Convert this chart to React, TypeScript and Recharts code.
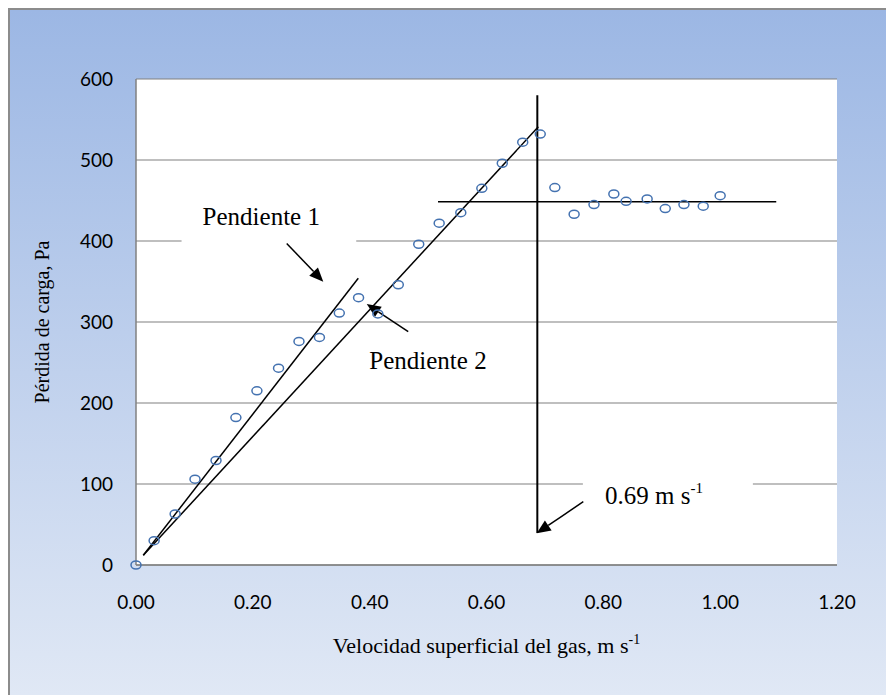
import React from 'react';
import {
  ScatterChart,
  Scatter,
  XAxis,
  YAxis,
  CartesianGrid,
  ReferenceLine,
  ReferenceArea,
  ReferenceDot,
  Label,
} from 'recharts';

// superficial gas velocity, m/s
const velocity = [
  0, 0.031, 0.067, 0.101, 0.137, 0.171, 0.207, 0.244, 0.279, 0.314, 0.348,
  0.381, 0.414, 0.449, 0.484, 0.519, 0.556, 0.592, 0.627, 0.662, 0.692,
  0.717, 0.75, 0.784, 0.818, 0.839, 0.875, 0.906, 0.938, 0.971, 1.0,
];
// pressure drop, Pa
const pressureDrop = [
  0, 30, 63, 106, 129, 182, 215, 243, 276, 281, 311, 330, 310, 346, 396,
  422, 435, 465, 496, 522, 532, 466, 433, 445, 458, 449, 452, 440, 445, 443,
  456,
];

const xTicks = [0, 0.2, 0.4, 0.6, 0.8, 1.0, 1.2];
const yTicks = [0, 100, 200, 300, 400, 500, 600];

// annotation geometry, in data units
const slope1 = [{ x: 0.0125, y: 12 }, { x: 0.3805, y: 354 }];
const slope2 = [{ x: 0.0125, y: 12 }, { x: 0.6887, y: 541 }];
const breakVertical = [{ x: 0.687, y: 39.5 }, { x: 0.687, y: 580 }];
const plateau = [{ x: 0.517, y: 448.5 }, { x: 1.096, y: 448.5 }];
const arrow1 = [{ x: 0.258, y: 397 }, { x: 0.3206, y: 349.8 }];
const arrow2 = [{ x: 0.466, y: 288 }, { x: 0.395, y: 322.2 }];
const arrow3 = [{ x: 0.7657, y: 78.1 }, { x: 0.6859, y: 39.1 }];

const data = velocity.map((v, i) => ({ x: v, y: pressureDrop[i] }));

const SERIF = "'Liberation Serif', 'Times New Roman', serif";
const SANS = "Lato, 'Liberation Sans', sans-serif";
const GRID = '#808080';

const Circle = (props: any) => (
  <ellipse
    cx={props.cx}
    cy={props.cy}
    rx={5}
    ry={4}
    fill="none"
    stroke="#4472b0"
    strokeWidth={1.5}
  />
);

const Arrow = (props: any) => {
  const { x1, y1, x2, y2 } = props;
  const dx = x2 - x1;
  const dy = y2 - y1;
  const len = Math.sqrt(dx * dx + dy * dy);
  const ux = dx / len;
  const uy = dy / len;
  const head = 14;
  const half = 6;
  const bx = x2 - ux * head;
  const by = y2 - uy * head;
  const pts = `${x2},${y2} ${bx - uy * half},${by + ux * half} ${bx + uy * half},${by - ux * half}`;
  return (
    <g>
      <line x1={x1} y1={y1} x2={bx} y2={by} stroke="#000" strokeWidth={1.5} />
      <polygon points={pts} fill="#000" />
    </g>
  );
};

const textShape = (content: React.ReactNode) => (props: any) => (
  <text
    x={props.cx}
    y={props.cy}
    dy="0.35em"
    fontFamily={SERIF}
    fontSize={25}
    fill="#000"
  >
    {content}
  </text>
);

const YTitle = (props: any) => {
  const { viewBox } = props;
  const cx = viewBox.x + 32;
  const cy = viewBox.y + viewBox.height / 2;
  return (
    <text
      x={cx}
      y={cy}
      transform={`rotate(-90 ${cx} ${cy})`}
      textAnchor="middle"
      dy="0.35em"
      fontFamily={SERIF}
      fontSize={20}
      fill="#000"
    >
      Pérdida de carga, Pa
    </text>
  );
};

const XTitle = (props: any) => {
  const { viewBox } = props;
  return (
    <text
      x={viewBox.x + viewBox.width / 2}
      y={viewBox.y + 80}
      textAnchor="middle"
      dy="0.35em"
      fontFamily={SERIF}
      fontSize={22}
      fill="#000"
    >
      Velocidad superficial del gas, m s
      <tspan fontSize={14} dy="-0.6em">-1</tspan>
    </text>
  );
};

export default function App() {
  return (
    <div
      style={{
        position: 'fixed',
        left: 8,
        top: 8,
        width: 878,
        height: 687,
        boxSizing: 'border-box',
        borderTop: '2px solid #8c8c8c',
        borderLeft: '2px solid #8c8c8c',
        background: 'linear-gradient(to bottom, #9cb7e4 0%, #e0e8f5 100%)',
      }}
    >
      <ScatterChart
        width={876}
        height={685}
        margin={{ top: 69, right: 49, bottom: 40, left: 0 }}
      >
        <CartesianGrid
          vertical={false}
          stroke={GRID}
          strokeWidth={1.2}
          fill="#fff"
          fillOpacity={1}
        />
        <XAxis
          type="number"
          dataKey="x"
          domain={[0, 1.2]}
          ticks={xTicks}
          tickFormatter={(v: number) => v.toFixed(2)}
          height={90}
          tickLine={false}
          tickSize={0}
          tickMargin={31}
          axisLine={{ stroke: GRID, strokeWidth: 1.5 }}
          tick={{ fontFamily: SANS, fontSize: 19, fill: '#000' }}
          label={<Label content={<XTitle />} />}
        />
        <YAxis
          type="number"
          dataKey="y"
          domain={[0, 600]}
          ticks={yTicks}
          width={126}
          tickLine={false}
          tickSize={0}
          tickMargin={23}
          axisLine={{ stroke: GRID, strokeWidth: 1.5 }}
          tick={{ fontFamily: SANS, fontSize: 19, fill: '#000' }}
          label={<Label content={<YTitle />} />}
        />

        {/* white label boxes that break the gridlines */}
        <ReferenceArea x1={0.078} x2={0.377} y1={385} y2={455} fill="#fff" fillOpacity={1} stroke="none" zIndex={-50} />
        <ReferenceArea x1={0.357} x2={0.657} y1={214} y2={296} fill="#fff" fillOpacity={1} stroke="none" zIndex={-50} />
        <ReferenceArea x1={0.765} x2={1.056} y1={60} y2={125} fill="#fff" fillOpacity={1} stroke="none" zIndex={-50} />

        <ReferenceLine segment={slope1} stroke="#000" strokeWidth={1.5} />
        <ReferenceLine segment={slope2} stroke="#000" strokeWidth={1.5} />
        <ReferenceLine segment={breakVertical} stroke="#000" strokeWidth={2} />
        <ReferenceLine segment={plateau} stroke="#000" strokeWidth={1.5} />

        <ReferenceArea x1={0.357} x2={0.37} y1={285} y2={296} fill="#fff" fillOpacity={1} stroke="none" />

        <ReferenceLine segment={arrow1} shape={Arrow} />
        <ReferenceLine segment={arrow2} shape={Arrow} />
        <ReferenceLine segment={arrow3} shape={Arrow} />

        <ReferenceDot x={0.114} y={430} shape={textShape('Pendiente 1')} />
        <ReferenceDot x={0.3994} y={253} shape={textShape('Pendiente 2')} />
        <ReferenceDot
          x={0.803}
          y={86.4}
          shape={textShape(
            <>
              0.69 m s<tspan fontSize={15} dy="-0.7em">-1</tspan>
            </>
          )}
        />

        <Scatter data={data} shape={Circle} isAnimationActive={false} />
      </ScatterChart>
    </div>
  );
}
